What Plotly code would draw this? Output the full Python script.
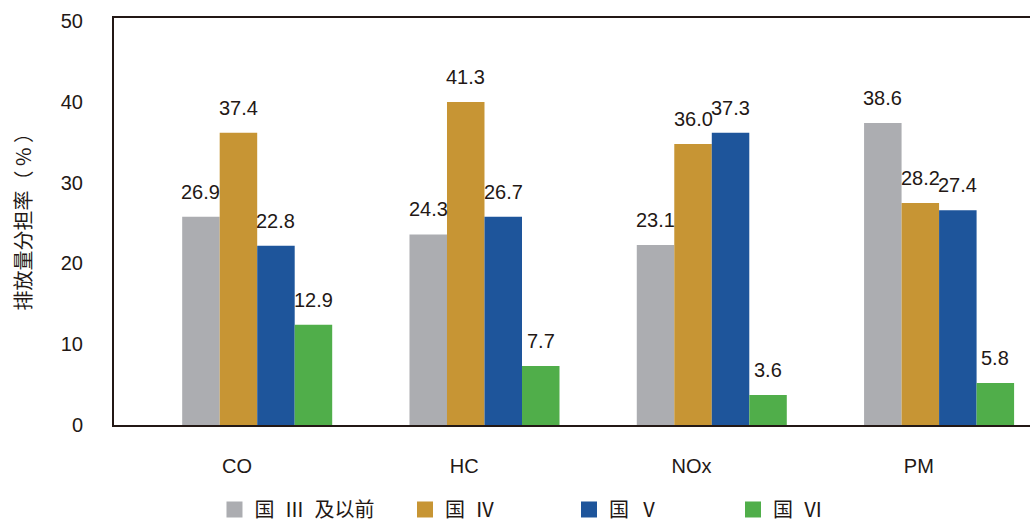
import plotly.graph_objects as go

categories = ["CO", "HC", "NOx", "PM"]
series_names = ["国\u2002Ⅲ\u2002及以前", "国\u2002Ⅳ", "国\u2002Ⅴ", "国\u2002Ⅵ"]

# bar heights as drawn in the picture
gb3_heights = [25.8, 23.6, 22.3, 37.4]
gb4_heights = [36.2, 40.0, 34.8, 27.5]
gb5_heights = [22.2, 25.8, 36.2, 26.6]
gb6_heights = [12.4, 7.3, 3.7, 5.2]

# value labels printed above the bars
gb3_labels = ["26.9", "24.3", "23.1", "38.6"]
gb4_labels = ["37.4", "41.3", "36.0", "28.2"]
gb5_labels = ["22.8", "26.7", "37.3", "27.4"]
gb6_labels = ["12.9", "7.7", "3.6", "5.8"]

y_ticks = [0, 10, 20, 30, 40, 50]
y_title = "排放量分担率（ % ）"

colors = ["#ACADB1", "#C79534", "#1E559B", "#50AE4A"]
heights = [gb3_heights, gb4_heights, gb5_heights, gb6_heights]
labels = [gb3_labels, gb4_labels, gb5_labels, gb6_labels]

INK = "#231815"
NUM_FONT = "Liberation Sans, Arial, Helvetica, sans-serif"
CJK_FONT = "Noto Sans CJK SC, sans-serif"

bar_w = 0.165
first_offset = -0.241

fig = go.Figure()
annotations = []
for k in range(4):
    off = first_offset + k * bar_w
    fig.add_trace(go.Bar(
        x=categories, y=heights[k], name=series_names[k],
        marker=dict(color=colors[k], line=dict(width=0)),
        width=bar_w, offset=off, showlegend=False,
    ))
    for i, (h, lab) in enumerate(zip(heights[k], labels[k])):
        annotations.append(dict(
            x=i + off + bar_w / 2, y=h, xref="x", yref="y",
            text=lab, showarrow=False, yshift=25, yanchor="middle",
            font=dict(family=NUM_FONT, size=20, color=INK),
        ))
    # legend proxy
    fig.add_trace(go.Scatter(
        x=[None], y=[None], mode="markers", name=series_names[k],
        marker=dict(symbol="square", size=16, color=colors[k]),
        legend="legend" if k == 0 else "legend2",
    ))

annotations.append(dict(
    x=-0.1004, y=0.51, xref="paper", yref="paper", text=y_title,
    textangle=-90, showarrow=False, xanchor="center", yanchor="middle",
    font=dict(family=CJK_FONT, size=20, color=INK),
))

legend_common = dict(
    orientation="h", y=-0.2555, xanchor="left", yanchor="bottom",
    font=dict(family=CJK_FONT, size=20, color=INK),
    bgcolor="rgba(0,0,0,0)", borderwidth=0,
)

fig.update_layout(
    width=1030, height=525,
    margin=dict(l=114, r=0, t=18, b=100, autoexpand=False),
    paper_bgcolor="white", plot_bgcolor="white",
    barmode="overlay",
    annotations=annotations,
    xaxis=dict(
        type="category", range=[-0.541, 3.489],
        showline=True, linecolor=INK, linewidth=2, mirror=True,
        showgrid=False, zeroline=False, ticks="",
        ticklabelstandoff=22,
        tickfont=dict(family=NUM_FONT, size=20, color=INK),
    ),
    yaxis=dict(
        range=[0, 50.4], tickvals=y_ticks, ticktext=[str(v) for v in y_ticks],
        showline=True, linecolor=INK, linewidth=2, mirror=False,
        showgrid=False, zeroline=False, ticks="",
        ticklabelstandoff=25,
        tickfont=dict(family=NUM_FONT, size=20, color=INK),
    ),
    legend=dict(x=0.1097, **legend_common),
    legend2=dict(x=0.3177, entrywidth=119, entrywidthmode="pixels", **legend_common),
)

fig.write_html(
    "out.html",
    config={"displayModeBar": False},
    post_script="document.body.style.margin='0';document.body.style.overflow='hidden';",
)
